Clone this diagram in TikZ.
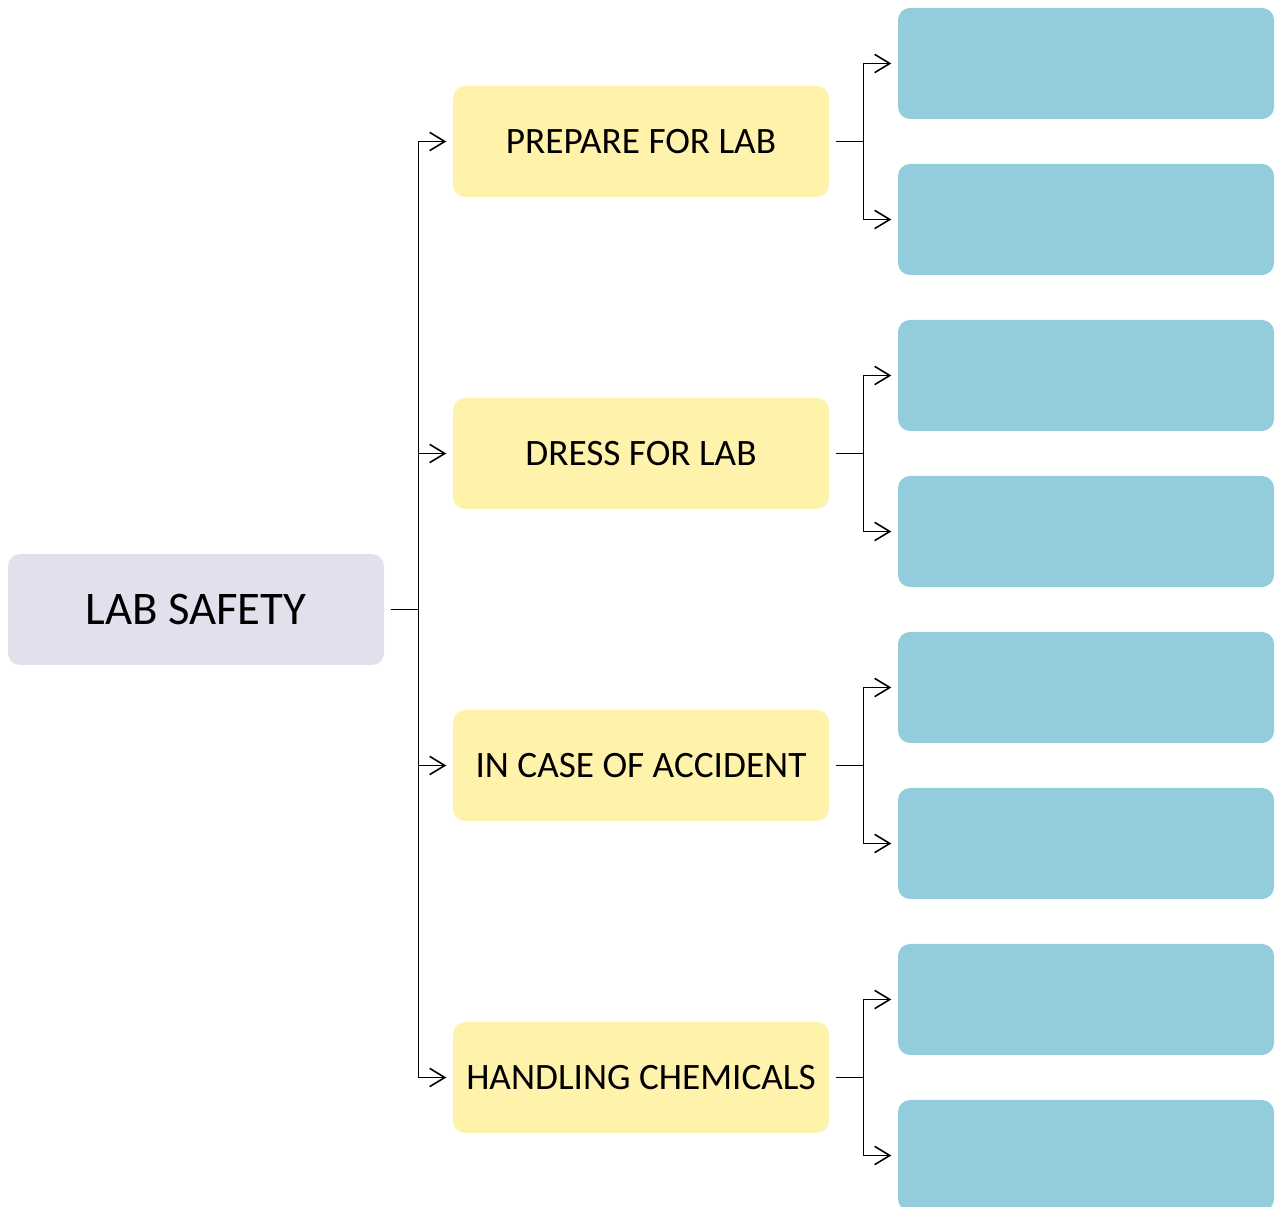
\documentclass[tikz,border=0pt]{standalone}
\usepackage{fontspec}
\setmainfont{Carlito}
\usetikzlibrary{arrows.meta}
\definecolor{rootfill}{HTML}{E4DFEC}
\definecolor{topicfill}{HTML}{FFF2AB}
\definecolor{leaffill}{HTML}{93CDDD}
\tikzset{
  box/.style   = {shape=rectangle, rounded corners=0.12cm,
                  minimum width=3.76cm, minimum height=1.11cm,
                  inner sep=0pt, align=center},
  root/.style  = {box, fill=rootfill, font=\fontsize{13.3}{16}\selectfont},
  topic/.style = {box, fill=topicfill, font=\fontsize{10.6}{13}\selectfont},
  leaf/.style  = {box, fill=leaffill}
}

\begin{document}
\begin{tikzpicture}
  [
  grow' = right,
  edge from parent/.style = {draw, line width=0.45pt,
                             -{Straight Barb[length=4.3pt,width=5.2pt]},
                             shorten <=0.06cm, shorten >=0.06cm},
  edge from parent path = {(\tikzparentnode.east) -- ++(0.34cm,0)
                           |- (\tikzchildnode.west)}
  ]

  \tikzstyle{level 1}=[sibling distance=31.2mm, level distance=44.5mm]
  \tikzstyle{level 2}=[sibling distance=15.6mm, level distance=44.5mm]

  \useasboundingbox (0,0) rectangle (12.75,-12.07);

  \node[root] at (1.96,-6.095) {LAB SAFETY}
    child{node [topic] {PREPARE FOR LAB}
      child{node [leaf] {}}
      child{node [leaf] {}} }
    child{node [topic] {DRESS FOR LAB}
      child{node [leaf] {}}
      child{node [leaf] {}} }
    child{node [topic] {IN CASE OF ACCIDENT}
      child{node [leaf] {}}
      child{node [leaf] {}} }
    child{node [topic] {HANDLING CHEMICALS}
      child{node [leaf] {}}
      child{node [leaf] {}} };
\end{tikzpicture}
\end{document}
